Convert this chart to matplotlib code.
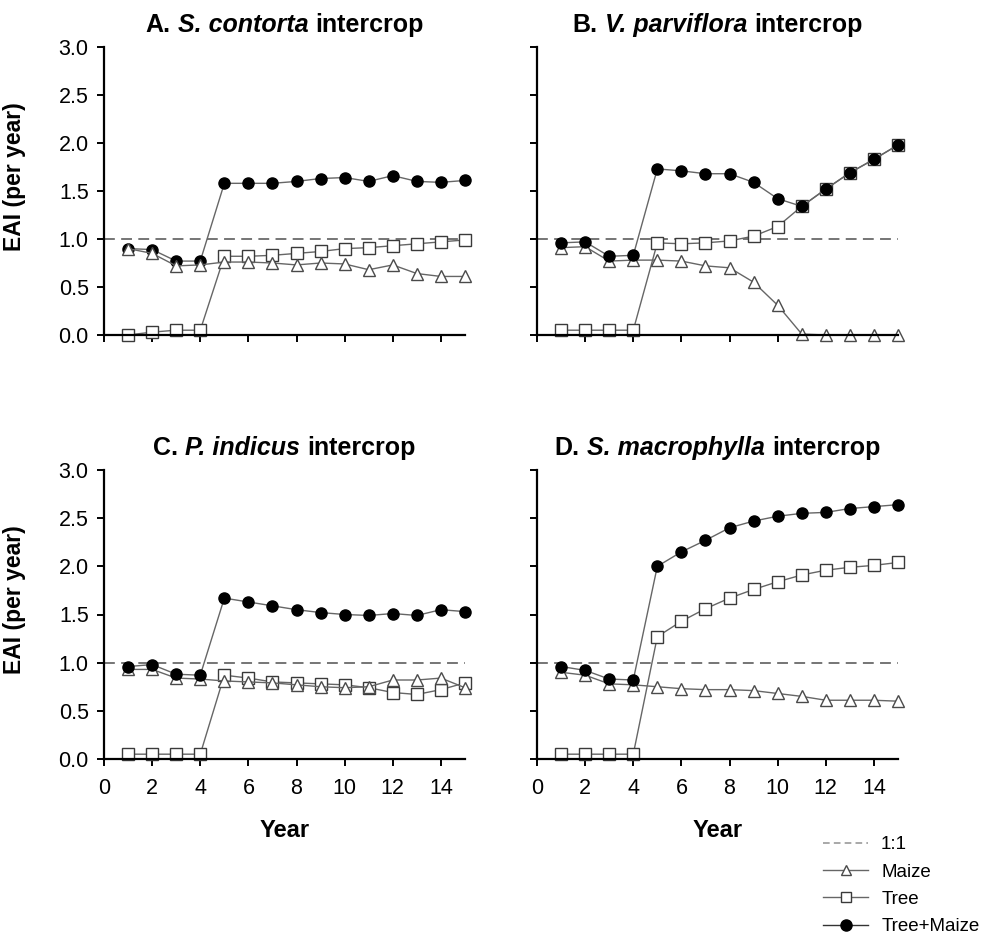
import matplotlib
matplotlib.use("Agg")
import matplotlib.pyplot as plt
from matplotlib.lines import Line2D

plt.rcParams['font.family'] = ['Liberation Sans', 'DejaVu Sans']

years = list(range(1, 16))

# panel titles: (prefix, species in italics, suffix)
titles = [
    ("A.", "S. contorta", "intercrop"),
    ("B.", "V. parviflora", "intercrop"),
    ("C.", "P. indicus", "intercrop"),
    ("D.", "S. macrophylla", "intercrop"),
]

# A. S. contorta
maize_a = [0.90, 0.85, 0.72, 0.73, 0.76, 0.76, 0.75, 0.73, 0.75, 0.74, 0.68, 0.73, 0.64, 0.61, 0.61]
tree_a = [0.00, 0.03, 0.05, 0.05, 0.82, 0.82, 0.83, 0.85, 0.87, 0.90, 0.91, 0.93, 0.95, 0.97, 0.99]
total_a = [0.90, 0.89, 0.77, 0.77, 1.58, 1.58, 1.58, 1.60, 1.63, 1.64, 1.60, 1.66, 1.60, 1.59, 1.61]

# B. V. parviflora
maize_b = [0.91, 0.92, 0.77, 0.78, 0.78, 0.77, 0.72, 0.70, 0.55, 0.31, 0.01, 0.00, 0.00, 0.00, 0.00]
tree_b = [0.05, 0.05, 0.05, 0.05, 0.96, 0.95, 0.96, 0.98, 1.03, 1.13, 1.34, 1.52, 1.69, 1.83, 1.98]
total_b = [0.96, 0.97, 0.82, 0.83, 1.73, 1.71, 1.68, 1.68, 1.59, 1.42, 1.34, 1.52, 1.69, 1.83, 1.98]

# C. P. indicus
maize_c = [0.93, 0.93, 0.84, 0.83, 0.81, 0.80, 0.79, 0.77, 0.75, 0.74, 0.75, 0.82, 0.82, 0.84, 0.74]
tree_c = [0.05, 0.05, 0.05, 0.05, 0.87, 0.84, 0.80, 0.79, 0.78, 0.77, 0.74, 0.69, 0.67, 0.72, 0.79]
total_c = [0.96, 0.98, 0.88, 0.87, 1.67, 1.63, 1.59, 1.55, 1.52, 1.50, 1.49, 1.51, 1.49, 1.55, 1.53]

# D. S. macrophylla
maize_d = [0.90, 0.87, 0.78, 0.77, 0.75, 0.73, 0.72, 0.72, 0.71, 0.68, 0.65, 0.61, 0.61, 0.61, 0.60]
tree_d = [0.05, 0.05, 0.05, 0.05, 1.27, 1.43, 1.56, 1.67, 1.76, 1.84, 1.91, 1.96, 1.99, 2.01, 2.04]
total_d = [0.96, 0.92, 0.83, 0.82, 2.00, 2.15, 2.27, 2.40, 2.47, 2.52, 2.55, 2.56, 2.60, 2.62, 2.64]

maize_all = [maize_a, maize_b, maize_c, maize_d]
tree_all = [tree_a, tree_b, tree_c, tree_d]
total_all = [total_a, total_b, total_c, total_d]

y_ticks = [0.0, 0.5, 1.0, 1.5, 2.0, 2.5, 3.0]
x_ticks = [0, 2, 4, 6, 8, 10, 12, 14]

W, H = 990, 934
fig = plt.figure(figsize=(W / 100, H / 100), dpi=100)
renderer = fig.canvas.get_renderer()

# axes boxes in pixels: left, y of zero line, y of top
boxes = [(104, 335, 47), (537, 335, 47), (104, 759, 470), (537, 759, 470)]
ax_w = 361

line_col = '#666666'
style = dict(color=line_col, lw=1.0, markersize=8, clip_on=False, markeredgewidth=1.0)

TITLE_FS = 18


def draw_title(cx_px, base_px, parts):
    """Centre a bold title made of roman / italic pieces at cx_px."""
    (pre, species, post) = parts
    specs = [(pre, 'normal'), (species, 'italic'), (post, 'normal')]
    texts = []
    for s, st in specs:
        t = fig.text(0, 1 - base_px / H, s, fontsize=TITLE_FS, fontweight='bold',
                     fontstyle=st, va='baseline', ha='left')
        texts.append(t)
    widths = [t.get_window_extent(renderer).width for t in texts]
    gap = 0.28 * TITLE_FS * 100 / 72
    total = sum(widths) + 2 * gap
    x = cx_px - total / 2
    for t, w in zip(texts, widths):
        t.set_x(x / W)
        x += w + gap


for i, (lft, y0, y3) in enumerate(boxes):
    ax = fig.add_axes([lft / W, 1 - y0 / H, ax_w / W, (y0 - y3) / H])
    ax.axhline(1.0, color='#6a6a6a', lw=1.3, ls=(0, (6, 3.5)), zorder=1)

    z_maize = 5 if i == 0 else 3
    ax.plot(years, tree_all[i], marker='s', markerfacecolor='white',
            markeredgecolor='#3a3a3a', zorder=2, **style)
    ax.plot(years, maize_all[i], marker='^', markerfacecolor='white',
            markeredgecolor='#4a4a4a', zorder=z_maize, **style)
    ax.plot(years, total_all[i], marker='o', markerfacecolor='black',
            markeredgecolor='black', zorder=4, **style)

    ax.set_xlim(0, 15)
    ax.set_ylim(0, 3.0)
    ax.set_xticks(x_ticks)
    ax.set_yticks(y_ticks)
    ax.spines['top'].set_visible(False)
    ax.spines['right'].set_visible(False)
    for s in ('left', 'bottom'):
        ax.spines[s].set_linewidth(1.6)
        ax.spines[s].set_zorder(6)
    ax.tick_params(direction='out', length=5, width=1.4, labelsize=15.5, color='black')
    ax.tick_params(axis='y', pad=6)
    ax.tick_params(axis='x', pad=9)

    if i % 2 == 0:
        ax.set_yticklabels([f"{v:.1f}" for v in y_ticks])
        ax.set_ylabel('EAI (per year)', fontsize=16.5, fontweight='bold')
        ax.yaxis.set_label_coords(-0.215, 0.55)
    else:
        ax.set_yticklabels([])
    if i >= 2:
        ax.set_xlabel('Year', fontsize=17, fontweight='bold', labelpad=14)
    else:
        ax.set_xticklabels([])

    draw_title(lft + ax_w / 2, y3 - 15, titles[i])

handles = [
    Line2D([], [], color='#9a9a9a', lw=1.2, ls=(0, (4, 2.5))),
    Line2D([], [], color=line_col, lw=1.0, marker='^', markersize=7,
           markerfacecolor='white', markeredgecolor='#4a4a4a'),
    Line2D([], [], color=line_col, lw=1.0, marker='s', markersize=7,
           markerfacecolor='white', markeredgecolor='#3a3a3a'),
    Line2D([], [], color='#333333', lw=1.0, marker='o', markersize=8,
           markerfacecolor='black', markeredgecolor='black'),
]
labels = ['1:1', 'Maize', 'Tree', 'Tree+Maize']
fig.legend(handles, labels, loc='upper left', bbox_to_anchor=(823 / W, 1 - 836 / H),
           frameon=False, fontsize=13.5, handlelength=2.4, handletextpad=0.7,
           labelspacing=0.55, borderpad=0, borderaxespad=0)

fig.savefig('out.png', dpi=100)
